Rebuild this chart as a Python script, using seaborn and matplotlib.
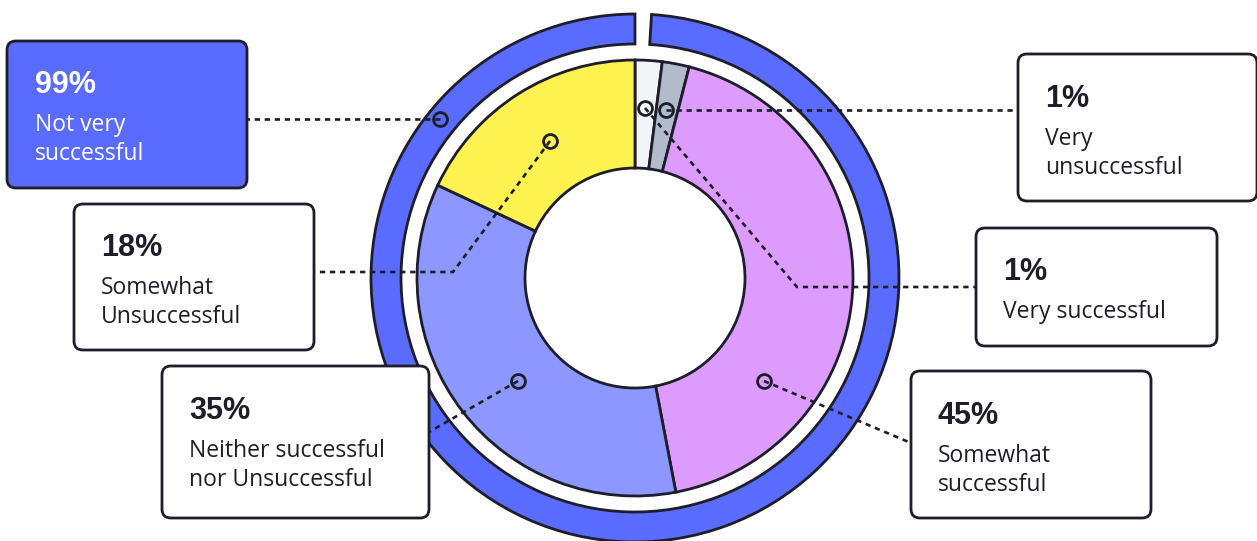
import numpy as np
import matplotlib.pyplot as plt
import seaborn as sns
from matplotlib.patches import FancyBboxPatch

# Data
inner_labels = ['Very successful', 'Very\nunsuccessful', 'Somewhat\nsuccessful',
                'Neither successful\nnor Unsuccessful', 'Somewhat\nUnsuccessful']
inner_pct = ['1%', '1%', '45%', '35%', '18%']
# slice sizes as drawn (the two 1% slices are drawn a bit wider)
inner_share = [2, 2, 43, 35, 18]
inner_colors = ['#F3F4F8', '#B1BBCB', '#DD9BFD', '#8C97FF', '#FEF250']

outer_labels = ['', 'Not very\nsuccessful']
outer_pct = ['', '99%']
outer_share = [1, 99]
outer_colors = ['none', '#5A6BFF']

EDGE = '#1D1D2B'
W, H = 1257, 541
CX, CY = 635, 278

sns.set_theme(style='white')
plt.rcParams['font.family'] = ['Open Sans', 'DejaVu Sans']

fig = plt.figure(figsize=(W / 100, H / 100), dpi=100)
ax = fig.add_axes([0, 0, 1, 1])

# outer ring
wedges, _ = ax.pie(outer_share, colors=outer_colors, startangle=90, counterclock=False,
                   center=(CX, H - CY), radius=264,
                   wedgeprops=dict(width=30, edgecolor=EDGE, linewidth=2))
wedges[0].set_edgecolor('none')

# inner donut
ax.pie(inner_share, colors=inner_colors, startangle=90, counterclock=False,
       center=(CX, H - CY), radius=218,
       wedgeprops=dict(width=108, edgecolor=EDGE, linewidth=2))

ax.set_xlim(0, W)
ax.set_ylim(0, H)
ax.set_aspect('equal')
ax.axis('off')


def box(x0, y0, x1, y1, fill):
    p = FancyBboxPatch((x0, H - y1), x1 - x0, y1 - y0,
                       boxstyle='round,pad=0,rounding_size=9',
                       fc=fill, ec=EDGE, lw=2, zorder=5)
    ax.add_patch(p)


def label(x, y, pct, txt, color=EDGE):
    ax.text(x, H - y, pct, fontsize=22, fontweight='bold', family=['Liberation Sans'],
            color=color, va='center', ha='left', zorder=6)
    ax.text(x, H - y - 28, txt, fontsize=16.5, color=color, va='top', ha='left',
            linespacing=1.3, zorder=6)


def connector(pts):
    xs = [p[0] for p in pts]
    ys = [H - p[1] for p in pts]
    ax.plot(xs, ys, color=EDGE, lw=1.9, ls=(0, (2, 1.8)), zorder=4)
    ax.plot(xs[0], ys[0], marker='o', ms=10, mfc='none', mec=EDGE, mew=2, zorder=4)


# connectors: marker first
connector([(440, 119), (247, 119)])
connector([(666, 110), (1018, 110)])
connector([(645, 108), (797, 287), (976, 287)])
connector([(550, 141), (453, 272), (314, 272)])
connector([(518, 381), (429, 432)])
connector([(764, 381), (911, 443)])

# boxes and texts
box(7, 41, 247, 188, outer_colors[1])
label(35, 85, outer_pct[1], outer_labels[1], color='white')

box(74, 204, 314, 350, 'white')
label(101, 248, inner_pct[4], inner_labels[4])

box(162, 366, 429, 518, 'white')
label(189, 411, inner_pct[3], inner_labels[3])

box(1018, 54, 1257, 201, 'white')
label(1045, 99, inner_pct[1], inner_labels[1])

box(976, 228, 1217, 346, 'white')
label(1003, 272, inner_pct[0], inner_labels[0])

box(911, 371, 1151, 518, 'white')
label(938, 416, inner_pct[2], inner_labels[2])

fig.savefig('out.png', dpi=100)
